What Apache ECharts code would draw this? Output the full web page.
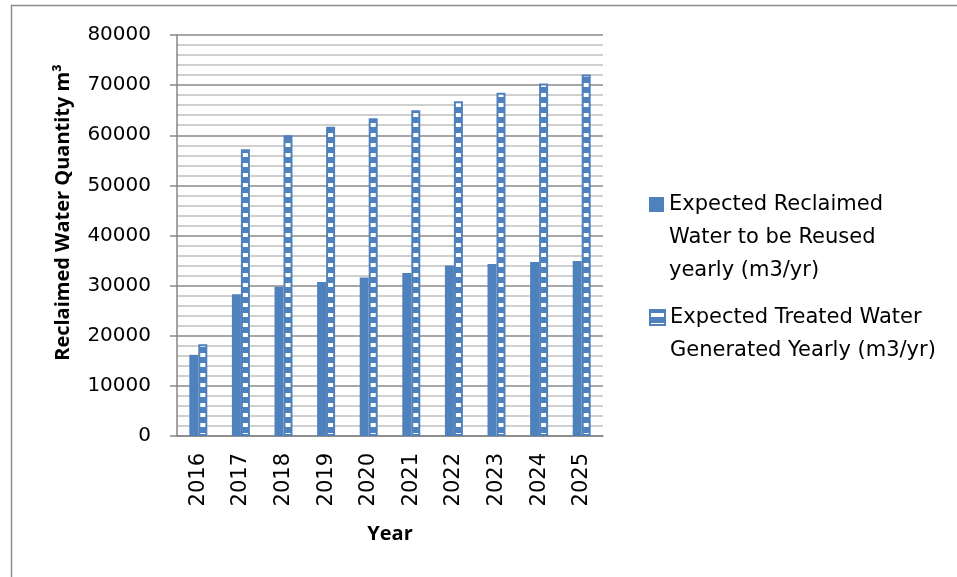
<!DOCTYPE html>
<html>
<head>
<meta charset="utf-8">
<script src="https://cdn.jsdelivr.net/npm/echarts@6/dist/echarts.min.js"></script>
<style>
  html, body { margin: 0; padding: 0; background: #fff; }
  #chart { width: 957px; height: 577px; }
</style>
</head>
<body>
<div id="chart"></div>
<script>
/* data */
var years = ['2016', '2017', '2018', '2019', '2020', '2021', '2022', '2023', '2024', '2025'];
var reclaimed = [16200, 28300, 29800, 30700, 31600, 32500, 34000, 34300, 34700, 34900];
var treated = [18300, 57200, 60000, 61700, 63400, 65000, 66800, 68500, 70300, 72100];
var seriesNames = [
    'Expected Reclaimed\nWater to be Reused\nyearly (m3/yr)',
    'Expected Treated Water\nGenerated Yearly (m3/yr)'
];
var yTicks = [0, 10000, 20000, 30000, 40000, 50000, 60000, 70000, 80000];

var blue = '#4F81BD';
var font = 'DejaVu Sans';

/* striped fill for the treated bars: blue with white windows */
var stripe = document.createElement('canvas');
stripe.width = 4;
stripe.height = 10;
var ctx = stripe.getContext('2d');
ctx.fillStyle = blue;
ctx.fillRect(0, 0, 4, 10);
ctx.fillStyle = '#ffffff';
ctx.fillRect(0, 3, 4, 4);

var legendText = { fontFamily: font, fontSize: 21, color: '#000', lineHeight: 33 };

var chart = echarts.init(document.getElementById('chart'));
var option = {
    animation: false,
    backgroundColor: '#fff',
    graphic: [{
        type: 'rect',
        silent: true,
        shape: { x: 11.5, y: 5.5, width: 1000, height: 700 },
        style: { fill: 'none', stroke: '#8c8c8c', lineWidth: 1.5 }
    }],
    grid: { left: 177, right: 354, top: 35, bottom: 141 },
    // leading blank lines keep the icon level with the first text line
    legend: [{
        orient: 'vertical',
        left: 644,
        top: 117,
        icon: 'rect',
        itemWidth: 15,
        itemHeight: 15,
        data: [seriesNames[0]],
        formatter: function (name) { return '\n\n' + name; },
        textStyle: legendText
    }, {
        orient: 'vertical',
        left: 644,
        top: 263,
        icon: 'rect',
        itemWidth: 15,
        itemHeight: 15,
        data: [seriesNames[1]],
        formatter: function (name) { return '\n' + name; },
        textStyle: legendText
    }],
    xAxis: {
        type: 'category',
        data: years,
        name: 'Year',
        nameLocation: 'middle',
        nameGap: 88,
        nameTextStyle: { fontFamily: 'Open Sans', fontWeight: 'bold', fontSize: 20, color: '#000' },
        axisLine: { lineStyle: { color: '#868686', width: 1.5 } },
        axisTick: { show: false },
        axisLabel: { rotate: 90, margin: 17, fontFamily: font, fontSize: 21, color: '#000' }
    },
    yAxis: {
        type: 'value',
        min: yTicks[0],
        max: yTicks[yTicks.length - 1],
        interval: 10000,
        name: 'Reclaimed Water Quantity m³',
        nameLocation: 'middle',
        nameGap: 104,
        nameTextStyle: {
            fontFamily: 'Open Sans', fontWeight: 'bold', fontSize: 20, color: '#000',
            padding: [0, 0, 0, 46]
        },
        axisLine: { show: true, lineStyle: { color: '#868686', width: 1.5 } },
        axisTick: { show: true, length: 7, lineStyle: { color: '#868686', width: 1.5 } },
        axisLabel: {
            margin: 26, fontFamily: font, fontSize: 20, color: '#000',
            formatter: function (v) { return String(v); }
        },
        splitLine: { lineStyle: { color: '#8a8a8a', width: 1.5 } },
        minorTick: { show: false, splitNumber: 5 },
        minorSplitLine: { show: true, lineStyle: { color: '#c0c0c0', width: 1.5 } }
    },
    series: [{
        name: seriesNames[0],
        type: 'bar',
        barWidth: 9,
        barGap: '0%',
        itemStyle: { color: blue },
        data: reclaimed
    }, {
        name: seriesNames[1],
        type: 'bar',
        barWidth: 9,
        itemStyle: {
            color: { image: stripe, repeat: 'repeat' },
            borderColor: blue,
            borderWidth: 2
        },
        data: treated
    }]
};
chart.setOption(option);

window.addEventListener('resize', function () {
    chart.resize();
});
</script>
</body>
</html>
